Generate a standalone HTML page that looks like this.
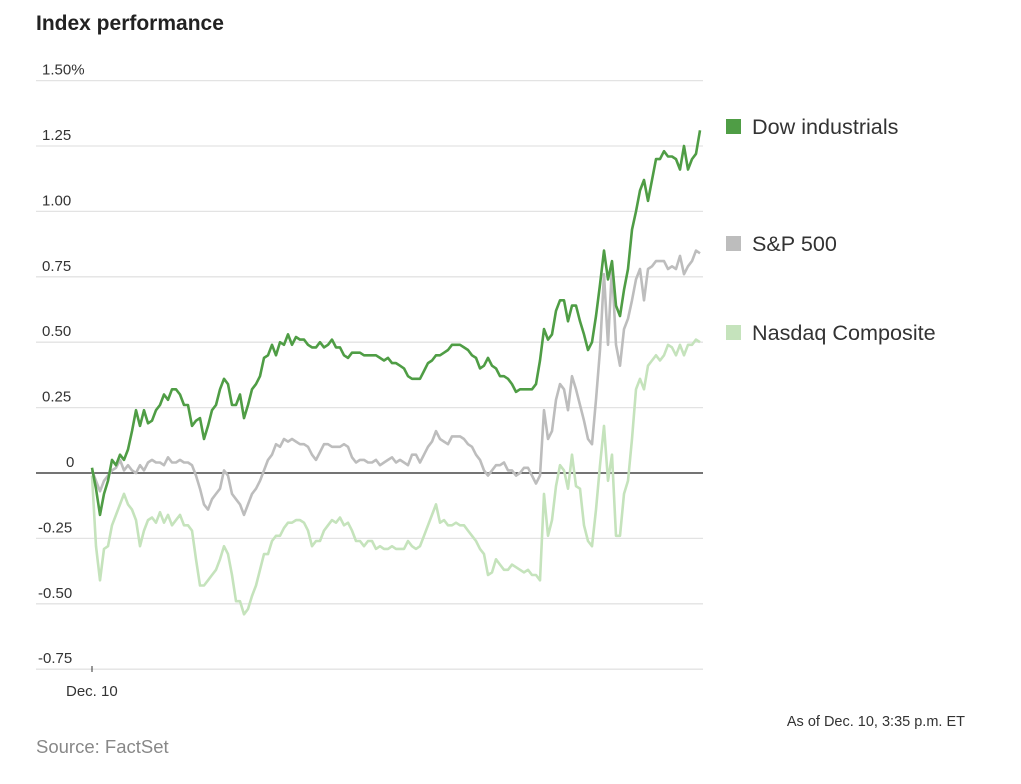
<!DOCTYPE html>
<html><head><meta charset="utf-8"><style>
body{margin:0;background:#fff;width:1021px;height:779px;overflow:hidden;font-family:"Liberation Sans",sans-serif}
</style></head><body>
<svg id="chart" width="1021" height="779">
<text x="36" y="30" font-size="21" font-weight="bold" fill="#222">Index performance</text>
<g id="grid"></g><g id="series"></g>
<text x="66" y="696" font-size="15" fill="#333">Dec. 10</text>
<line x1="92" y1="666" x2="92" y2="672" stroke="#333"/>
<g>
<rect x="726" y="119" width="15" height="15" fill="#4f9d45"/>
<text x="752" y="134" font-size="21.6" fill="#333">Dow industrials</text>
<rect x="726" y="236" width="15" height="15" fill="#bdbdbd"/>
<text x="752" y="251" font-size="21.6" fill="#333">S&amp;P 500</text>
<rect x="726" y="325" width="15" height="15" fill="#c5e3bc"/>
<text x="752" y="340" font-size="21.6" fill="#333">Nasdaq Composite</text>
</g>
<text x="965" y="726" font-size="14.5" fill="#333" text-anchor="end">As of Dec. 10, 3:35 p.m. ET</text>
<text x="36" y="753" font-size="18.5" fill="#888">Source: FactSet</text>
</svg>
<script>
const yTicks=[1.5,1.25,1.0,0.75,0.5,0.25,0,-0.25,-0.5,-0.75];
const yTickLabels=["1.50%","1.25","1.00","0.75","0.50","0.25","0","-0.25","-0.50","-0.75"];
const dow=[0.02,-0.06,-0.16,-0.08,-0.03,0.05,0.03,0.07,0.05,0.09,0.16,0.24,0.18,0.24,0.19,0.20,0.24,0.26,0.30,0.28,0.32,0.32,0.30,0.26,0.26,0.18,0.20,0.21,0.13,0.18,0.24,0.26,0.32,0.36,0.34,0.26,0.26,0.30,0.21,0.26,0.32,0.34,0.37,0.44,0.45,0.49,0.45,0.50,0.49,0.53,0.49,0.52,0.51,0.51,0.49,0.48,0.48,0.50,0.48,0.49,0.51,0.48,0.48,0.45,0.44,0.46,0.46,0.46,0.45,0.45,0.45,0.45,0.44,0.43,0.44,0.42,0.42,0.41,0.40,0.37,0.36,0.36,0.36,0.39,0.42,0.43,0.45,0.45,0.46,0.47,0.49,0.49,0.49,0.48,0.47,0.45,0.44,0.40,0.41,0.44,0.41,0.40,0.37,0.37,0.36,0.34,0.31,0.32,0.32,0.32,0.32,0.34,0.43,0.55,0.51,0.53,0.62,0.66,0.66,0.58,0.64,0.64,0.58,0.53,0.47,0.50,0.60,0.72,0.85,0.74,0.81,0.64,0.60,0.70,0.78,0.93,1.00,1.08,1.12,1.04,1.12,1.20,1.20,1.23,1.21,1.21,1.20,1.16,1.25,1.16,1.20,1.22,1.31];
const sp500=[0.01,-0.03,-0.07,-0.03,-0.01,0.01,0.02,0.05,0.01,0.03,0.01,0.00,0.03,0.01,0.04,0.05,0.04,0.04,0.03,0.06,0.04,0.04,0.05,0.04,0.04,0.03,-0.01,-0.06,-0.12,-0.14,-0.10,-0.08,-0.06,0.01,-0.01,-0.08,-0.10,-0.12,-0.16,-0.12,-0.08,-0.06,-0.03,0.01,0.05,0.07,0.11,0.10,0.13,0.12,0.13,0.12,0.11,0.11,0.10,0.07,0.05,0.08,0.11,0.11,0.10,0.10,0.10,0.11,0.10,0.06,0.04,0.05,0.05,0.04,0.04,0.05,0.03,0.04,0.05,0.06,0.04,0.05,0.04,0.03,0.07,0.07,0.04,0.07,0.10,0.12,0.16,0.13,0.12,0.11,0.14,0.14,0.14,0.13,0.11,0.10,0.07,0.05,0.01,-0.01,0.01,0.03,0.03,0.04,0.01,0.01,-0.01,0.00,0.02,0.02,-0.01,-0.04,-0.01,0.24,0.13,0.16,0.28,0.34,0.32,0.24,0.37,0.32,0.26,0.20,0.13,0.11,0.28,0.47,0.76,0.49,0.79,0.49,0.41,0.55,0.59,0.66,0.74,0.78,0.66,0.78,0.79,0.81,0.81,0.81,0.78,0.79,0.78,0.83,0.76,0.79,0.81,0.85,0.84];
const nasdaq=[-0.01,-0.28,-0.41,-0.29,-0.28,-0.20,-0.16,-0.12,-0.08,-0.12,-0.14,-0.18,-0.28,-0.22,-0.18,-0.17,-0.19,-0.15,-0.19,-0.16,-0.20,-0.18,-0.16,-0.20,-0.20,-0.22,-0.33,-0.43,-0.43,-0.41,-0.39,-0.37,-0.33,-0.28,-0.31,-0.39,-0.49,-0.49,-0.54,-0.52,-0.47,-0.43,-0.37,-0.31,-0.31,-0.26,-0.24,-0.24,-0.21,-0.19,-0.19,-0.18,-0.18,-0.19,-0.22,-0.28,-0.26,-0.26,-0.22,-0.20,-0.18,-0.19,-0.17,-0.20,-0.19,-0.22,-0.26,-0.26,-0.28,-0.26,-0.26,-0.29,-0.28,-0.29,-0.29,-0.28,-0.29,-0.29,-0.29,-0.26,-0.28,-0.29,-0.28,-0.24,-0.20,-0.16,-0.12,-0.19,-0.18,-0.20,-0.20,-0.19,-0.20,-0.20,-0.22,-0.24,-0.26,-0.29,-0.31,-0.39,-0.38,-0.33,-0.35,-0.37,-0.37,-0.35,-0.36,-0.37,-0.38,-0.37,-0.39,-0.39,-0.41,-0.08,-0.24,-0.18,-0.05,0.03,0.01,-0.06,0.07,-0.05,-0.06,-0.20,-0.26,-0.28,-0.14,0.03,0.18,-0.03,0.07,-0.24,-0.24,-0.08,-0.03,0.13,0.32,0.36,0.32,0.41,0.43,0.45,0.43,0.45,0.49,0.48,0.45,0.49,0.45,0.49,0.49,0.51,0.50];
const NS='http://www.w3.org/2000/svg';
const X0=92,X1=700,Y0=473,PPU=261.6;
function yScale(v){return Y0-v*PPU;}
function xScale(i,n){return X0+i*(X1-X0)/(n-1);}
const grid=document.getElementById('grid');
yTicks.forEach((t,k)=>{
  const y=yScale(t);
  const l=document.createElementNS(NS,'line');
  l.setAttribute('x1',36);l.setAttribute('x2',703);l.setAttribute('y1',y);l.setAttribute('y2',y);
  l.setAttribute('stroke',t===0?'#222':'#e3e3e3');l.setAttribute('stroke-width',1.3);
  
  
  grid.appendChild(l);
  const tx=document.createElementNS(NS,'text');
  tx.setAttribute('x',t===0?66:(t<0?38:42));tx.setAttribute('y',y-6);tx.setAttribute('font-size','15');tx.setAttribute('fill','#333');
  tx.textContent=yTickLabels[k];
  
  
  grid.appendChild(tx);
});
const sg=document.getElementById('series');
[[nasdaq,'#c5e3bc','nasdaq-line'],[sp500,'#bdbdbd','sp500-line'],[dow,'#4f9d45','dow-line']].forEach(([d,c,name])=>{
  const p=document.createElementNS(NS,'polyline');
  p.setAttribute('points',d.map((v,i)=>xScale(i,d.length).toFixed(1)+','+yScale(v).toFixed(1)).join(' '));
  p.setAttribute('fill','none');p.setAttribute('stroke',c);p.setAttribute('stroke-width','2.6');p.setAttribute('stroke-linejoin','round');
  
  
  sg.appendChild(p);
});
</script>
</body></html>
